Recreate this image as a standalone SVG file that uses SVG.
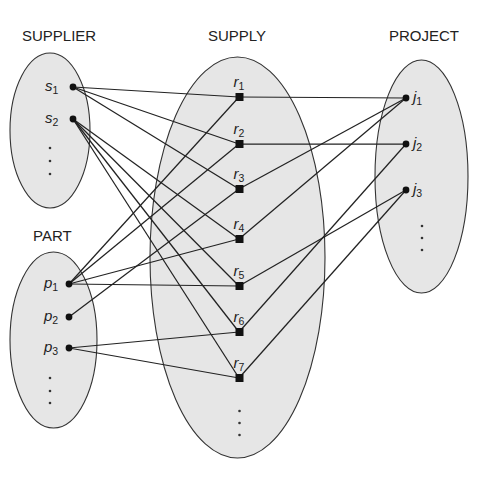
<svg xmlns="http://www.w3.org/2000/svg" width="495" height="478" viewBox="0 0 495 478">
<style>
.set{fill:#e6e6e6;stroke:#333;stroke-width:1.1}
.title{font-family:"Liberation Sans",Arial,sans-serif;font-size:15px;fill:#222}
.lbl{font-family:"Liberation Sans",Arial,sans-serif;font-size:15px;font-style:italic;fill:#222}
.sub{font-size:10.5px;font-style:normal}
.dot{fill:#111}
.sq{fill:#111}
.edge{stroke:#222;stroke-width:1.25;fill:none}
.el{fill:#333}
</style>
<rect width="495" height="478" fill="#fff"/>
<text class="title" x="22" y="41">SUPPLIER</text>
<text class="title" x="208" y="41">SUPPLY</text>
<text class="title" x="389" y="41">PROJECT</text>
<text class="title" x="33" y="241">PART</text>
<g id="sets">
<ellipse class="set" cx="50" cy="130.5" rx="40" ry="77.5"/>
<ellipse class="set" cx="53.5" cy="340" rx="43.5" ry="88"/>
<ellipse class="set" cx="237.5" cy="257.5" rx="87.5" ry="200.5"/>
<ellipse class="set" cx="421.5" cy="176.5" rx="46.5" ry="116.5"/>
</g>
<g id="connectors">
<line class="edge" x1="73" y1="87" x2="239" y2="97"/>
<line class="edge" x1="73" y1="87" x2="239" y2="144"/>
<line class="edge" x1="73" y1="87" x2="239" y2="189"/>
<line class="edge" x1="73" y1="119" x2="239" y2="239"/>
<line class="edge" x1="73" y1="119" x2="239" y2="286"/>
<line class="edge" x1="73" y1="119" x2="239" y2="332"/>
<line class="edge" x1="73" y1="119" x2="239" y2="378"/>
<line class="edge" x1="69" y1="284" x2="239" y2="97"/>
<line class="edge" x1="69" y1="284" x2="239" y2="144"/>
<line class="edge" x1="69" y1="284" x2="239" y2="239"/>
<line class="edge" x1="69" y1="284" x2="239" y2="286"/>
<line class="edge" x1="69" y1="317" x2="239" y2="189"/>
<line class="edge" x1="69" y1="348" x2="239" y2="332"/>
<line class="edge" x1="69" y1="348" x2="239" y2="378"/>
<line class="edge" x1="239" y1="97" x2="406" y2="98"/>
<line class="edge" x1="239" y1="144" x2="406" y2="144"/>
<line class="edge" x1="239" y1="189" x2="406" y2="98"/>
<line class="edge" x1="239" y1="239" x2="406" y2="98"/>
<line class="edge" x1="239" y1="286" x2="406" y2="190"/>
<line class="edge" x1="239" y1="332" x2="406" y2="144"/>
<line class="edge" x1="239" y1="378" x2="406" y2="190"/>
</g>
<g id="s1"><circle class="dot" cx="73" cy="87" r="3.4"/><text class="lbl" x="45" y="91">s<tspan class="sub" dy="3">1</tspan></text></g>
<g id="s2"><circle class="dot" cx="73" cy="119" r="3.4"/><text class="lbl" x="45" y="123">s<tspan class="sub" dy="3">2</tspan></text></g>
<g id="s-more"><circle class="el" cx="50" cy="148" r="1.3"/><circle class="el" cx="50" cy="161" r="1.3"/><circle class="el" cx="50" cy="174" r="1.3"/></g>
<g id="p1"><circle class="dot" cx="69" cy="284" r="3.4"/><text class="lbl" x="44" y="288">p<tspan class="sub" dy="3">1</tspan></text></g>
<g id="p2"><circle class="dot" cx="69" cy="317" r="3.4"/><text class="lbl" x="44" y="321">p<tspan class="sub" dy="3">2</tspan></text></g>
<g id="p3"><circle class="dot" cx="69" cy="348" r="3.4"/><text class="lbl" x="44" y="352">p<tspan class="sub" dy="3">3</tspan></text></g>
<g id="p-more"><circle class="el" cx="50" cy="378" r="1.3"/><circle class="el" cx="50" cy="391" r="1.3"/><circle class="el" cx="50" cy="403" r="1.3"/></g>
<g id="r1"><rect class="sq" x="235.5" y="93" width="8" height="8"/><text class="lbl" x="233.5" y="87">r<tspan class="sub" dy="3">1</tspan></text></g>
<g id="r2"><rect class="sq" x="235.5" y="140" width="8" height="8"/><text class="lbl" x="233.5" y="134">r<tspan class="sub" dy="3">2</tspan></text></g>
<g id="r3"><rect class="sq" x="235.5" y="185" width="8" height="8"/><text class="lbl" x="233.5" y="179">r<tspan class="sub" dy="3">3</tspan></text></g>
<g id="r4"><rect class="sq" x="235.5" y="235" width="8" height="8"/><text class="lbl" x="233.5" y="229">r<tspan class="sub" dy="3">4</tspan></text></g>
<g id="r5"><rect class="sq" x="235.5" y="282" width="8" height="8"/><text class="lbl" x="233.5" y="276">r<tspan class="sub" dy="3">5</tspan></text></g>
<g id="r6"><rect class="sq" x="235.5" y="328" width="8" height="8"/><text class="lbl" x="233.5" y="322">r<tspan class="sub" dy="3">6</tspan></text></g>
<g id="r7"><rect class="sq" x="235.5" y="374" width="8" height="8"/><text class="lbl" x="233.5" y="368">r<tspan class="sub" dy="3">7</tspan></text></g>
<g id="r-more"><circle class="el" cx="239.5" cy="411" r="1.3"/><circle class="el" cx="239.5" cy="423" r="1.3"/><circle class="el" cx="239.5" cy="435" r="1.3"/></g>
<g id="j1"><circle class="dot" cx="406" cy="98" r="3.4"/><text class="lbl" x="413" y="102">j<tspan class="sub" dy="3">1</tspan></text></g>
<g id="j2"><circle class="dot" cx="406" cy="144" r="3.4"/><text class="lbl" x="413" y="148">j<tspan class="sub" dy="3">2</tspan></text></g>
<g id="j3"><circle class="dot" cx="406" cy="190" r="3.4"/><text class="lbl" x="413" y="194">j<tspan class="sub" dy="3">3</tspan></text></g>
<g id="j-more"><circle class="el" cx="422" cy="226" r="1.3"/><circle class="el" cx="422" cy="238" r="1.3"/><circle class="el" cx="422" cy="250" r="1.3"/></g>
</svg>
